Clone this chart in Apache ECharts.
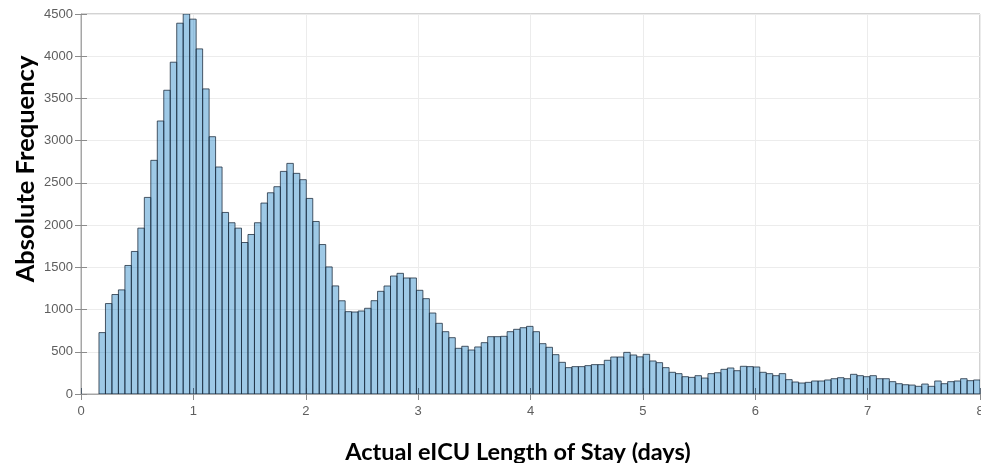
<!DOCTYPE html>
<html>
<head>
<meta charset="utf-8">
<script src="https://cdn.jsdelivr.net/npm/echarts@6/dist/echarts.min.js"></script>
<style>
html,body{margin:0;padding:0;background:#fff;}
#chart{width:981px;height:463px;}
</style>
</head>
<body>
<div id="chart"></div>
<script>
// Histogram bins (days)
const BIN_START = 0.16;
const BIN_WIDTH = 0.05765;
// Absolute frequency per bin
const counts = [
  727, 1071, 1178, 1233, 1522, 1688, 1964, 2328, 2767, 3233,
  3597, 3929, 4391, 4500, 4439, 4087, 3613, 3047, 2688, 2150,
  2028, 1964, 1794, 1889, 2028, 2261, 2383, 2455, 2636, 2731,
  2613, 2538, 2316, 2043, 1770, 1505, 1280, 1104, 975, 971,
  983, 1015, 1105, 1216, 1279, 1397, 1429, 1374, 1374, 1228,
  1129, 959, 837, 738, 667, 541, 565, 521, 557, 608,
  679, 679, 683, 738, 766, 785, 801, 738, 596, 553,
  466, 375, 312, 324, 324, 336, 348, 348, 399, 438,
  438, 493, 462, 440, 470, 391, 371, 312, 257, 241,
  205, 197, 217, 189, 241, 252, 292, 308, 276, 328,
  324, 320, 257, 241, 217, 241, 170, 142, 130, 138,
  154, 154, 166, 181, 193, 181, 233, 217, 205, 217,
  181, 181, 146, 122, 110, 106, 91, 118, 91, 154,
  122, 146, 154, 181, 158, 166
];
const xTicks = [0, 1, 2, 3, 4, 5, 6, 7, 8];
const yTicks = [0, 500, 1000, 1500, 2000, 2500, 3000, 3500, 4000, 4500];
const xLabel = 'Actual eICU Length of Stay (days)';
const yLabel = 'Absolute Frequency';

const data = counts.map((c, i) => [BIN_START + i * BIN_WIDTH, BIN_START + (i + 1) * BIN_WIDTH, c]);

const chart = echarts.init(document.getElementById('chart'), null, {renderer: 'canvas'});
const tickColor = '#8c8c8c';
const labelStyle = {color: '#5e5e5e', fontSize: 13, fontFamily: 'Liberation Sans, Arial, sans-serif',
  formatter: function (v) { return String(v); }};

chart.setOption({
  animation: false,
  backgroundColor: '#ffffff',
  grid: {left: 81, right: 1, top: 14, bottom: 69, show: true, borderColor: '#a6a6a6', borderWidth: 1,
    backgroundColor: 'transparent', containLabel: false, outerBoundsMode: 'none'},
  xAxis: [
    {
      type: 'value', min: xTicks[0], max: xTicks[xTicks.length - 1], interval: 1, position: 'bottom',
      axisLine: {show: true, lineStyle: {color: '#a6a6a6'}},
      axisTick: {show: false},
      axisLabel: Object.assign({margin: 11}, labelStyle),
      splitLine: {show: true, lineStyle: {color: '#ececec', width: 1}}
    },
    {
      type: 'value', min: xTicks[0], max: xTicks[xTicks.length - 1], interval: 1, position: 'top', z: 10,
      axisLine: {show: false},
      axisTick: {show: true, inside: true, length: 6, lineStyle: {color: tickColor}},
      axisLabel: {show: false}, splitLine: {show: false}
    },
    {
      type: 'value', min: xTicks[0], max: xTicks[xTicks.length - 1], interval: 1, position: 'bottom', offset: 0, z: 10,
      axisLine: {show: false},
      axisTick: {show: true, inside: true, length: 6, lineStyle: {color: 'rgba(40,60,80,0.7)'}},
      axisLabel: {show: false}, splitLine: {show: false}
    }
  ],
  yAxis: [
    {
      type: 'value', min: yTicks[0], max: yTicks[yTicks.length - 1], interval: 500, position: 'left',
      axisLine: {show: true, lineStyle: {color: '#a6a6a6'}},
      axisTick: {show: true, inside: true, length: 6, lineStyle: {color: tickColor}},
      axisLabel: Object.assign({margin: 8}, labelStyle),
      splitLine: {show: true, lineStyle: {color: '#ececec', width: 1}}
    },
    {
      type: 'value', min: yTicks[0], max: yTicks[yTicks.length - 1], interval: 500, position: 'right', z: 10,
      axisLine: {show: false},
      axisTick: {show: true, inside: true, length: 6, lineStyle: {color: tickColor}},
      axisLabel: {show: false}, splitLine: {show: false}
    }
  ],
  series: [{
    type: 'custom',
    xAxisIndex: 0, yAxisIndex: 0,
    data: data,
    encode: {x: [0, 1], y: 2},
    clip: true,
    renderItem: function (params, api) {
      const p0 = api.coord([api.value(0), api.value(2)]);
      const p1 = api.coord([api.value(1), 0]);
      return {
        type: 'rect',
        shape: {x: p0[0], y: p0[1], width: p1[0] - p0[0], height: p1[1] - p0[1]},
        style: {fill: 'rgba(0,114,189,0.38)', stroke: 'rgba(30,45,62,0.78)', lineWidth: 1}
      };
    }
  }],
  graphic: [
    {
      type: 'text', x: 518, y: 452,
      style: {text: xLabel, x: 0, y: 0, align: 'center', verticalAlign: 'middle',
        fontFamily: 'Lato, sans-serif', fontWeight: 'bold', fontSize: 23.5, fill: '#000'}
    },
    {
      type: 'text', rotation: Math.PI / 2, x: 26, y: 169,
      style: {text: yLabel, x: 0, y: 0, align: 'center', verticalAlign: 'middle',
        fontFamily: 'Lato, sans-serif', fontWeight: 'bold', fontSize: 25.5, fill: '#000'}
    }
  ]
});
</script>
</body>
</html>
